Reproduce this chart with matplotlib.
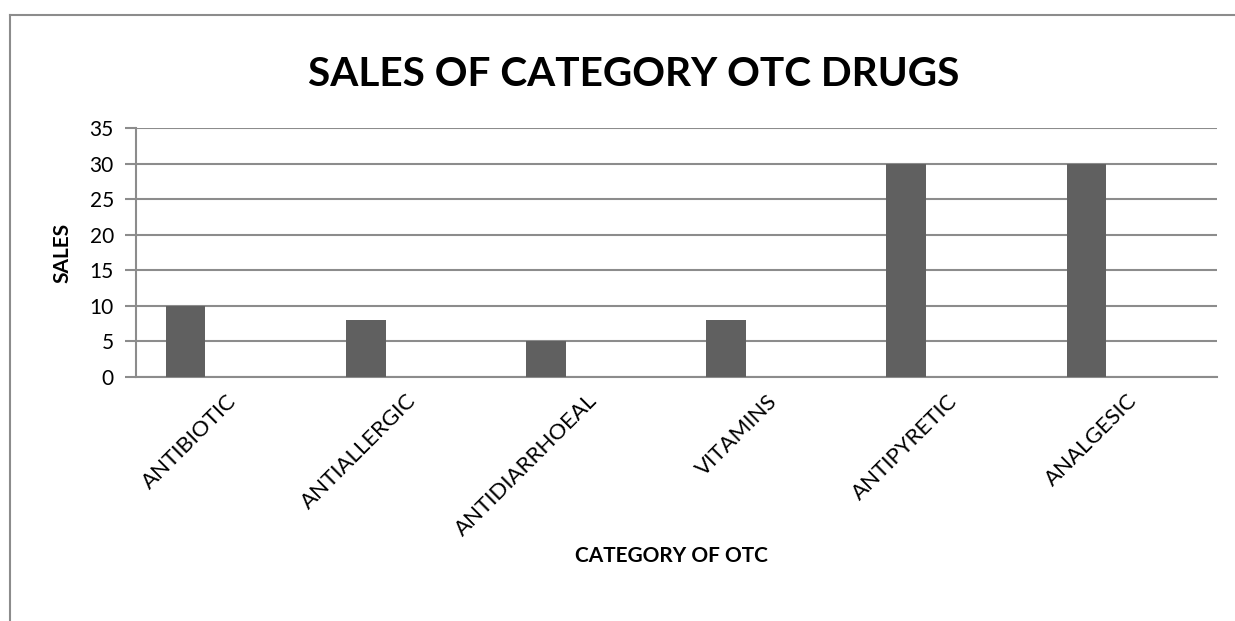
import matplotlib.pyplot as plt
from matplotlib.lines import Line2D

categories = ['ANTIBIOTIC', 'ANTIALLERGIC', 'ANTIDIARRHOEAL', 'VITAMINS', 'ANTIPYRETIC', 'ANALGESIC']
sales = [10, 8, 5, 8, 30, 30]
yticks = [0, 5, 10, 15, 20, 25, 30, 35]

plt.rcParams['font.family'] = ['Lato', 'DejaVu Sans']

fig = plt.figure(figsize=(12.35, 6.21), dpi=100)
ax = fig.add_axes([0.1101, 0.3929, 0.8753, 0.4010])

# bars sit left of the slot centre (first of three series, the others empty)
xs = [i - 0.225 for i in range(len(categories))]
ax.bar(xs, sales, width=0.22, color='#606060', zorder=3)

ax.set_xlim(-0.5, len(categories) - 0.5)
ax.set_ylim(0, 35)
ax.set_yticks(yticks)
ax.set_yticklabels([str(v) for v in yticks], fontsize=15)
ax.set_xticks(range(len(categories)))
ax.set_xticklabels(categories, rotation=45, ha='right', rotation_mode='anchor', fontsize=16)
ax.tick_params(axis='x', length=0, pad=10)
ax.tick_params(axis='y', length=8, width=1.5, color='#8c8c8c', pad=8)

ax.grid(axis='y', color='#8c8c8c', linewidth=1.5, zorder=0)
for s in ['top', 'right']:
    ax.spines[s].set_visible(False)
for s in ['left', 'bottom']:
    ax.spines[s].set_color('#8c8c8c')
    ax.spines[s].set_linewidth(1.5)

ax.set_ylabel('SALES', fontsize=15, fontweight='bold', labelpad=12)
fig.text(0.544, 0.104, 'CATEGORY OF OTC', ha='center', va='center', fontsize=15, fontweight='bold')
fig.text(0.5135, 0.88, 'SALES OF CATEGORY OTC DRUGS', ha='center', va='center', fontsize=29.2, fontweight='bold')

# chart frame, left and top edges
fig.add_artist(Line2D([10 / 1235, 10 / 1235], [0, 1 - 15 / 621], transform=fig.transFigure, color='#8c8c8c', linewidth=1.5))
fig.add_artist(Line2D([10 / 1235, 1], [1 - 15 / 621, 1 - 15 / 621], transform=fig.transFigure, color='#8c8c8c', linewidth=1.5))

fig.savefig('out.png', dpi=100)
